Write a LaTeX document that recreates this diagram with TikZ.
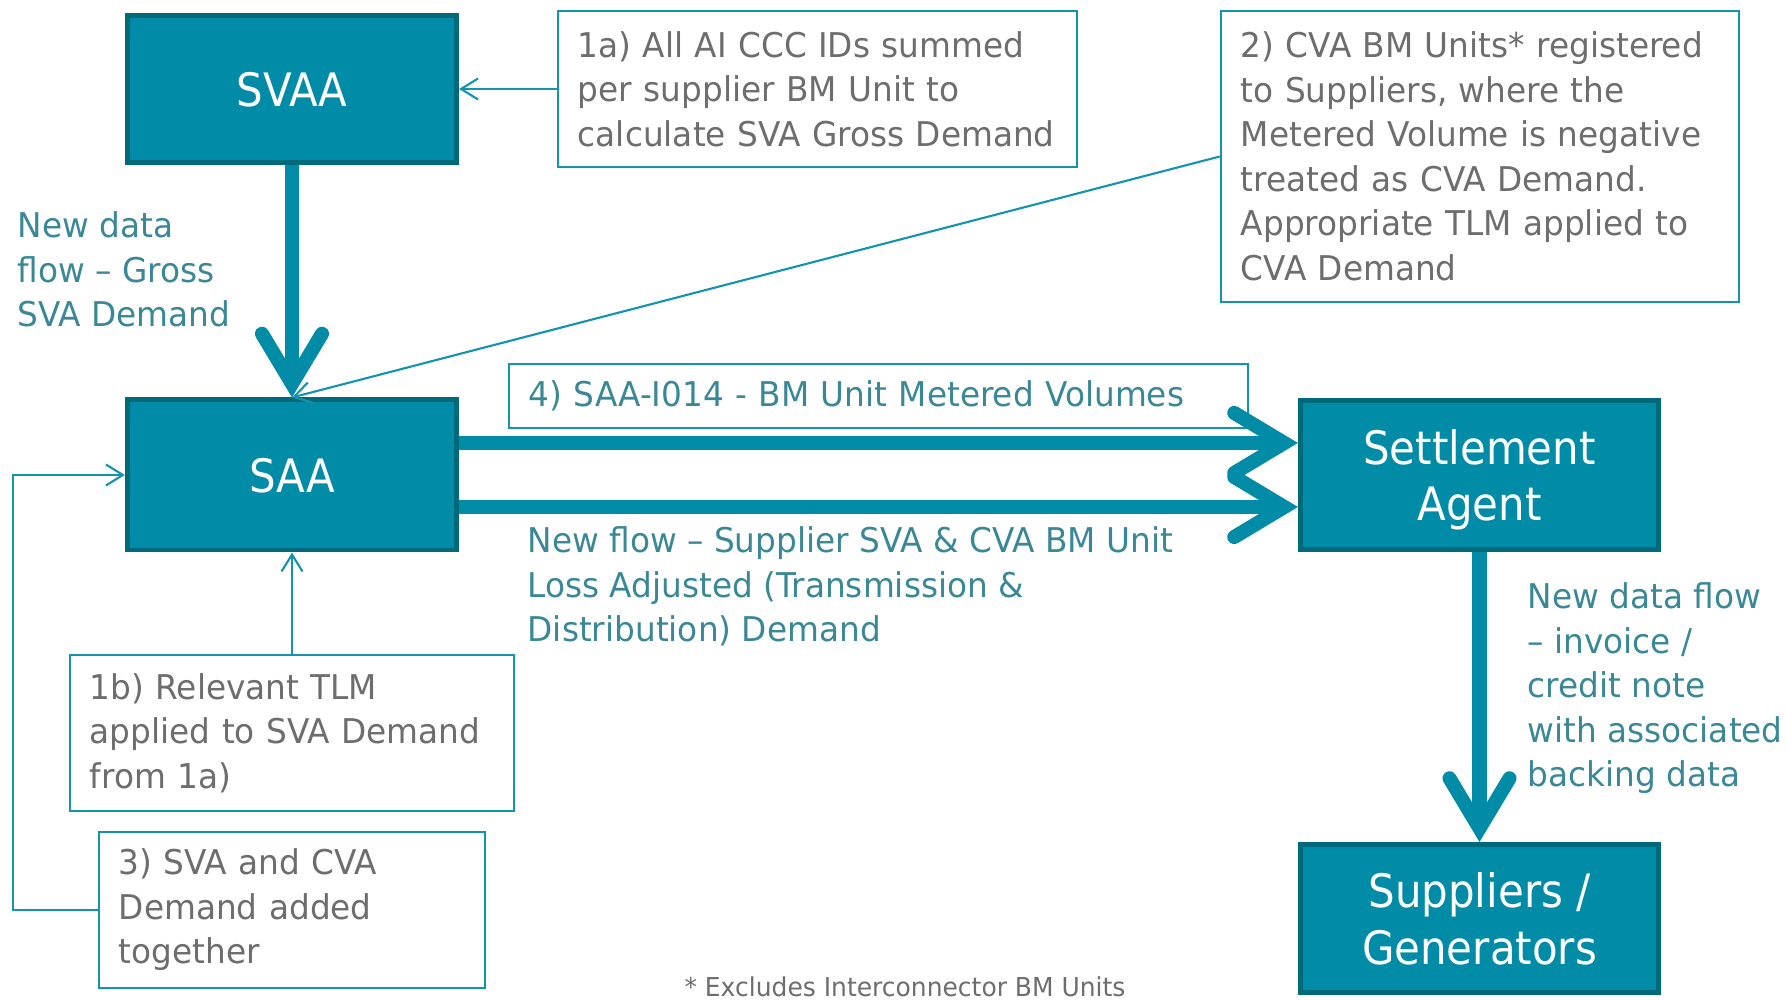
\documentclass[tikz,border=0pt]{standalone}
\usepackage{fontspec}
\setmainfont{DejaVu Sans}[FakeStretch=0.96]
\newfontfamily\agentfont{DejaVu Sans}[FakeStretch=0.91]
\usetikzlibrary{arrows.meta}
\definecolor{tealfill}{HTML}{008BA6}
\definecolor{tealedge}{HTML}{00697A}
\definecolor{tealline}{HTML}{1493AD}
\definecolor{greytext}{HTML}{6D6D6D}
\definecolor{tealtext}{HTML}{3A8895}
\begin{document}
\begin{tikzpicture}[x=0.01cm, y=-0.01cm,
  agent/.style={draw=tealedge, line width=1.4pt, fill=tealfill, text=white, font=\agentfont\fontsize{13.1}{16.2}\selectfont, align=center, inner sep=0pt, text depth=0pt},
  note/.style={draw=tealline, line width=0.6pt, fill=white, text=greytext, font=\fontsize{9.7}{12.66}\selectfont, align=left, inner xsep=0.2cm, inner ysep=0pt},
  flow/.style={text=tealtext, font=\fontsize{9.7}{12.66}\selectfont, align=left, inner sep=0pt},
  bigflow/.style={draw=tealfill, line width=4pt, -{Straight Barb[length=0.5cm,width=0.6cm,line cap=round]}},
  thinflow/.style={draw=tealline, line width=0.6pt, -{Straight Barb[length=0.17cm,width=0.21cm]}}]
\useasboundingbox (0,0) rectangle (1787,1001);
\node[agent, minimum width=3.29cm, minimum height=1.47cm] (P_svaa) at (292,89) {SVAA};
\node[agent, minimum width=3.29cm, minimum height=1.50cm] (P_saa) at (292,475) {SAA};
\node[agent, minimum width=3.58cm, minimum height=1.49cm] (P_sa) at (1479.5,475) {Settlement\\Agent};
\node[agent, minimum width=3.58cm, minimum height=1.48cm] (P_sg) at (1479.5,918.5) {Suppliers /\\Generators};
\node[note, text width=4.79cm, minimum height=1.56cm] (P_n1a) at (817.5,89) {1a) All AI CCC IDs summed\\per supplier BM Unit to\\calculate SVA Gross Demand};
\node[note, text width=4.78cm, minimum height=2.91cm] (P_n2) at (1480,156.5) {2) CVA BM Units* registered\\to Suppliers, where the\\Metered Volume is negative\\treated as CVA Demand.\\Appropriate TLM applied to\\CVA Demand};
\node[note, text=tealtext, text width=6.99cm, minimum height=0.64cm] (P_n4) at (878.5,396) {4) SAA-I014 - BM Unit Metered Volumes};
\node[note, text width=4.04cm, minimum height=1.56cm] (P_n1b) at (292,733) {1b) Relevant TLM\\applied to SVA Demand\\from 1a)};
\node[note, text width=3.46cm, minimum height=1.56cm] (P_n3) at (292,910) {3) SVA and CVA\\Demand added\\together};
\node[flow, anchor=north west] (P_gross) at (17,211) {New data\\flow – Gross\\SVA Demand};
\node[flow, anchor=north west] (P_newflow) at (527,526) {New flow – Supplier SVA \& CVA BM Unit\\Loss Adjusted (Transmission \&\\Distribution) Demand};
\node[flow, anchor=north west] (P_invoice) at (1527,582) {New data flow\\– invoice /\\credit note\\with associated\\backing data};
\node[font=\fontsize{7.4}{9}\selectfont, text=greytext, anchor=base, inner sep=0pt] (P_foot) at (905,997) {* Excludes Interconnector BM Units};
\draw[thinflow] (P_n1a) -- (P_svaa);
\draw[thinflow] (P_n2.west) -- (P_saa.north);
\draw[bigflow] (P_svaa) -- (P_saa);
\draw[bigflow] ([yshift=0.32cm]P_saa.east) -- ([yshift=0.32cm]P_sa.west);
\draw[bigflow] ([yshift=-0.32cm]P_saa.east) -- ([yshift=-0.32cm]P_sa.west);
\draw[bigflow] (P_sa) -- (P_sg);
\draw[thinflow] (P_n1b) -- (P_saa);
\coordinate (P_loop) at (13,475);
\draw[thinflow] (P_n3.west) -| (P_loop) -- (P_saa.west);
\end{tikzpicture}
\end{document}
